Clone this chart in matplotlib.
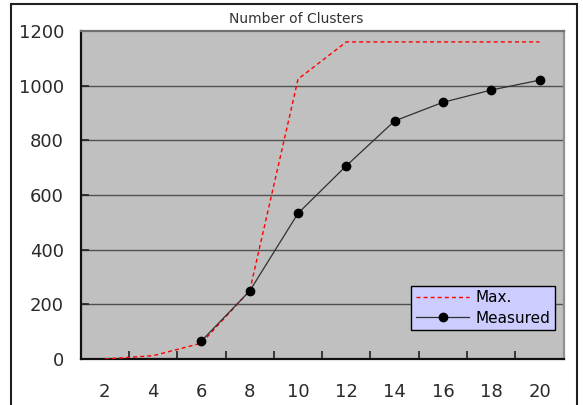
import matplotlib.pyplot as plt
from matplotlib.patches import Rectangle

# categories on the x axis
clusters = [2, 4, 6, 8, 10, 12, 14, 16, 18, 20]
max_clusters = [0, 12, 58, 250, 1024, 1160, 1160, 1160, 1160, 1160]

measured_x = [6, 8, 10, 12, 14, 16, 18, 20]
measured_clusters = [66, 249, 533, 707, 871, 939, 984, 1020]

y_ticks = [0, 200, 400, 600, 800, 1000, 1200]
boundaries = [3, 5, 7, 9, 11, 13, 15, 17, 19]

fig = plt.figure(figsize=(5.83, 4.05), dpi=100)
ax = fig.add_axes([0.1384, 0.1136, 0.8285, 0.8099])

ax.set_facecolor("#c0c0c0")

# outer chart border (bottom edge falls outside the picture)
fig.patches.append(Rectangle((11 / 583, -0.1), 566 / 583, 1.1 - 4 / 405,
                             transform=fig.transFigure, fill=False,
                             edgecolor="#202020", linewidth=1.5))

for v in y_ticks[1:-1]:
    ax.axhline(v, color="#505050", linewidth=1.0, zorder=1)

ax.plot(clusters, max_clusters, color="red", linewidth=1.0,
        linestyle=(0, (2.9, 2.2)), label="Max.", zorder=3)
ax.plot(measured_x, measured_clusters, color="#303030", linewidth=0.9,
        marker="o", markersize=6, markerfacecolor="black",
        markeredgecolor="black", label="Measured", zorder=4)

ax.set_xlim(1, 21)
ax.set_ylim(0, 1200)

ax.set_xticks(clusters)
ax.set_xticklabels([str(c) for c in clusters])
ax.set_xticks(boundaries, minor=True)
ax.tick_params(axis="x", which="major", length=0, pad=17, labelsize=13,
               labelcolor="#2a2a2a")
ax.tick_params(axis="x", which="minor", direction="in", length=6,
               width=1.2, color="#202020")

ax.set_yticks(y_ticks)
ax.tick_params(axis="y", direction="in", length=6, width=1.2,
               color="#202020", pad=12, labelsize=13, labelcolor="#2a2a2a")

ax.spines["left"].set_color("#101010")
ax.spines["left"].set_linewidth(1.6)
ax.spines["bottom"].set_color("#101010")
ax.spines["bottom"].set_linewidth(1.6)
ax.spines["top"].set_color("#707070")
ax.spines["top"].set_linewidth(1.6)
ax.spines["right"].set_color("#909090")
ax.spines["right"].set_linewidth(1.6)

fig.text(0.508, 0.954, "Number of Clusters", ha="center", va="center",
         fontsize=10, color="#333333")

leg = ax.legend(loc="lower right", bbox_to_anchor=(0.982, 0.088),
                fontsize=11, frameon=True, fancybox=False,
                facecolor="#ccccff", edgecolor="black", framealpha=1,
                handlelength=3.5, handletextpad=0.4, labelspacing=0.35,
                borderpad=0.3, borderaxespad=0)
leg.get_frame().set_linewidth(1.0)

plt.savefig("out.png", dpi=100)
